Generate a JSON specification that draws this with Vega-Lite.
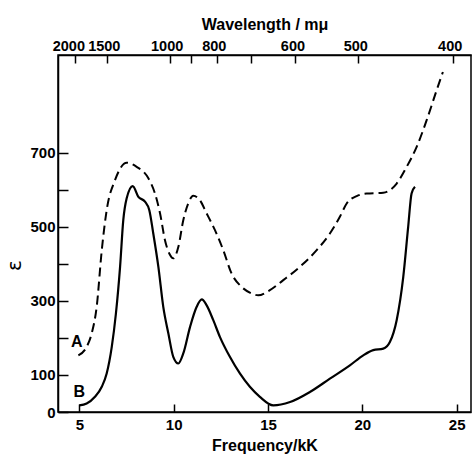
{
  "$schema": "https://vega.github.io/schema/vega-lite/v6.json",
  "width": 413,
  "height": 357,
  "autosize": {"type": "none"},
  "padding": {"left": 58, "top": 55, "right": 2, "bottom": 44},
  "background": "white",
  "config": {
    "view": {"stroke": "black", "strokeWidth": 1.5},
    "axis": {
      "grid": false,
      "domainColor": "black",
      "domainWidth": 1.5,
      "tickColor": "black",
      "tickWidth": 1.5,
      "labelColor": "black",
      "titleColor": "black",
      "labelFont": "Liberation Sans",
      "titleFont": "Liberation Sans",
      "labelFontWeight": "bold",
      "titleFontWeight": "bold",
      "labelFontSize": 15,
      "titleFontSize": 16,
      "labelOverlap": false,
      "labelFlush": false
    }
  },
  "datasets": {
    "curves": [
      {"curve": "A", "freq": 4.95, "eps": 153},
      {"curve": "A", "freq": 5.39, "eps": 176},
      {"curve": "A", "freq": 5.66, "eps": 213},
      {"curve": "A", "freq": 5.92, "eps": 284},
      {"curve": "A", "freq": 6.19, "eps": 437},
      {"curve": "A", "freq": 6.45, "eps": 545},
      {"curve": "A", "freq": 6.89, "eps": 626},
      {"curve": "A", "freq": 7.51, "eps": 673},
      {"curve": "A", "freq": 8.04, "eps": 662},
      {"curve": "A", "freq": 8.66, "eps": 631},
      {"curve": "A", "freq": 9.01, "eps": 590},
      {"curve": "A", "freq": 9.28, "eps": 536},
      {"curve": "A", "freq": 9.54, "eps": 464},
      {"curve": "A", "freq": 9.81, "eps": 424},
      {"curve": "A", "freq": 9.98, "eps": 415},
      {"curve": "A", "freq": 10.25, "eps": 446},
      {"curve": "A", "freq": 10.51, "eps": 518},
      {"curve": "A", "freq": 10.77, "eps": 563},
      {"curve": "A", "freq": 11.04, "eps": 584},
      {"curve": "A", "freq": 11.39, "eps": 572},
      {"curve": "A", "freq": 11.75, "eps": 536},
      {"curve": "A", "freq": 12.19, "eps": 491},
      {"curve": "A", "freq": 12.63, "eps": 437},
      {"curve": "A", "freq": 13.07, "eps": 374},
      {"curve": "A", "freq": 13.6, "eps": 338},
      {"curve": "A", "freq": 14.14, "eps": 320},
      {"curve": "A", "freq": 14.48, "eps": 315},
      {"curve": "A", "freq": 15.1, "eps": 329},
      {"curve": "A", "freq": 15.81, "eps": 356},
      {"curve": "A", "freq": 16.69, "eps": 392},
      {"curve": "A", "freq": 17.58, "eps": 437},
      {"curve": "A", "freq": 18.28, "eps": 482},
      {"curve": "A", "freq": 18.81, "eps": 527},
      {"curve": "A", "freq": 19.17, "eps": 563},
      {"curve": "A", "freq": 19.7, "eps": 583},
      {"curve": "A", "freq": 20.23, "eps": 590},
      {"curve": "A", "freq": 21.11, "eps": 592},
      {"curve": "A", "freq": 21.46, "eps": 599},
      {"curve": "A", "freq": 21.82, "eps": 617},
      {"curve": "A", "freq": 22.35, "eps": 662},
      {"curve": "A", "freq": 22.88, "eps": 716},
      {"curve": "A", "freq": 23.41, "eps": 788},
      {"curve": "A", "freq": 23.94, "eps": 869},
      {"curve": "A", "freq": 24.27, "eps": 918},
      {"curve": "B", "freq": 5.0, "eps": 18},
      {"curve": "B", "freq": 5.39, "eps": 23},
      {"curve": "B", "freq": 5.83, "eps": 41},
      {"curve": "B", "freq": 6.19, "eps": 68},
      {"curve": "B", "freq": 6.45, "eps": 104},
      {"curve": "B", "freq": 6.72, "eps": 176},
      {"curve": "B", "freq": 6.94, "eps": 266},
      {"curve": "B", "freq": 7.16, "eps": 392},
      {"curve": "B", "freq": 7.33, "eps": 518},
      {"curve": "B", "freq": 7.51, "eps": 577},
      {"curve": "B", "freq": 7.83, "eps": 610},
      {"curve": "B", "freq": 8.13, "eps": 581},
      {"curve": "B", "freq": 8.48, "eps": 568},
      {"curve": "B", "freq": 8.71, "eps": 545},
      {"curve": "B", "freq": 8.92, "eps": 482},
      {"curve": "B", "freq": 9.19, "eps": 392},
      {"curve": "B", "freq": 9.45, "eps": 284},
      {"curve": "B", "freq": 9.72, "eps": 212},
      {"curve": "B", "freq": 9.98, "eps": 149},
      {"curve": "B", "freq": 10.25, "eps": 131},
      {"curve": "B", "freq": 10.51, "eps": 158},
      {"curve": "B", "freq": 10.87, "eps": 230},
      {"curve": "B", "freq": 11.22, "eps": 284},
      {"curve": "B", "freq": 11.49, "eps": 304},
      {"curve": "B", "freq": 11.75, "eps": 288},
      {"curve": "B", "freq": 12.1, "eps": 248},
      {"curve": "B", "freq": 12.45, "eps": 203},
      {"curve": "B", "freq": 12.98, "eps": 149},
      {"curve": "B", "freq": 13.51, "eps": 104},
      {"curve": "B", "freq": 14.04, "eps": 68},
      {"curve": "B", "freq": 14.57, "eps": 41},
      {"curve": "B", "freq": 15.28, "eps": 18},
      {"curve": "B", "freq": 16.17, "eps": 27},
      {"curve": "B", "freq": 17.22, "eps": 54},
      {"curve": "B", "freq": 18.28, "eps": 90},
      {"curve": "B", "freq": 19.34, "eps": 126},
      {"curve": "B", "freq": 20.05, "eps": 153},
      {"curve": "B", "freq": 20.58, "eps": 167},
      {"curve": "B", "freq": 21.11, "eps": 171},
      {"curve": "B", "freq": 21.46, "eps": 189},
      {"curve": "B", "freq": 21.82, "eps": 248},
      {"curve": "B", "freq": 22.17, "eps": 365},
      {"curve": "B", "freq": 22.43, "eps": 500},
      {"curve": "B", "freq": 22.61, "eps": 590},
      {"curve": "B", "freq": 22.79, "eps": 608}
    ],
    "labels": [
      {"text": "A", "freq": 4.86, "eps": 189},
      {"text": "B", "freq": 5.0, "eps": 54}
    ]
  },
  "resolve": {"axis": {"x": "independent", "y": "independent"}},
  "layer": [
    {
      "data": {"name": "curves"},
      "transform": [{"filter": "datum.curve === 'A'"}],
      "mark": {"type": "line", "color": "black", "strokeWidth": 2, "strokeDash": [9, 5], "interpolate": "monotone"},
      "encoding": {
        "x": {
          "field": "freq", "type": "quantitative",
          "scale": {"domain": [3.87, 25.76], "nice": false, "zero": false},
          "axis": {"orient": "bottom", "values": [5, 10, 15, 20, 25], "tickSize": -8, "labelPadding": 13, "title": "Frequency/kK", "titlePadding": 5}
        },
        "y": {
          "field": "eps", "type": "quantitative",
          "scale": {"domain": [0, 964], "nice": false, "zero": true},
          "axis": {
            "orient": "left",
            "values": [0, 100, 200, 300, 400, 500, 600, 700],
            "labelExpr": "indexof([0,100,300,500,700], datum.value) >= 0 ? datum.label : ''",
            "tickSize": -10, "labelPadding": 13,
            "title": "ε", "titleFontWeight": "normal", "titleFont": "DejaVu Sans", "titleFontSize": 20,
            "titleX": -44, "titleY": 210, "titleAlign": "center", "titleBaseline": "middle", "titleAngle": -90
          }
        }
      }
    },
    {
      "data": {"name": "curves"},
      "transform": [{"filter": "datum.curve === 'B'"}],
      "mark": {"type": "line", "color": "black", "strokeWidth": 2.2, "interpolate": "monotone"},
      "encoding": {
        "x": {
          "field": "freq", "type": "quantitative",
          "axis": {
            "orient": "top",
            "values": [5, 6.66667, 10, 11.1111, 12.5, 14.2857, 16.6667, 20, 25],
            "labelExpr": "(datum.value > 11 && datum.value < 11.2) || (datum.value > 14 && datum.value < 14.5) ? '' : '' + round(10000 / datum.value)",
            "tickSize": -8, "labelPadding": 10, "labelFontSize": 14.5,
            "tickOffset": -4,
            "labelOffset": {"condition": {"test": "datum.value < 5.5", "value": -7}, "value": -3},
            "title": "Wavelength / mμ", "titlePadding": 6
          }
        },
        "y": {"field": "eps", "type": "quantitative", "axis": null}
      }
    },
    {
      "data": {"name": "labels"},
      "mark": {"type": "text", "color": "black", "font": "Liberation Sans", "fontWeight": "bold", "fontSize": 16, "align": "center", "baseline": "middle"},
      "encoding": {
        "x": {"field": "freq", "type": "quantitative", "axis": null},
        "y": {"field": "eps", "type": "quantitative", "axis": null},
        "text": {"field": "text"}
      }
    }
  ]
}
